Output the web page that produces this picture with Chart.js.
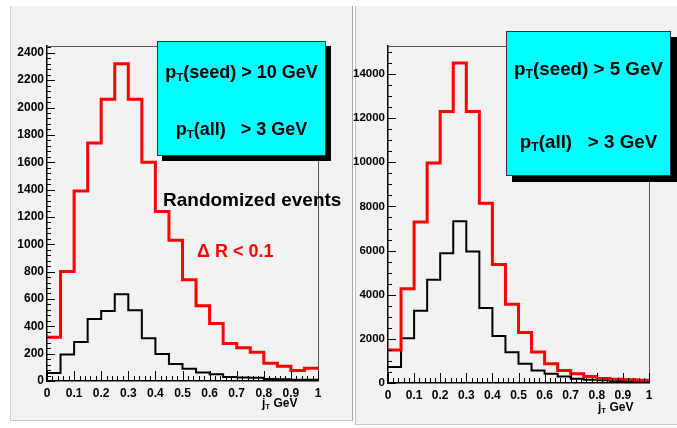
<!doctype html>
<html>
<head>
    <title>jT histograms</title>
    <script src="https://cdn.jsdelivr.net/npm/chart.js@4.4.0/dist/chart.umd.min.js"></script>
    <style>
        html, body {
            margin: 0px;
            width: 677px;
            height: 428px;
            background: #fff;
            overflow: hidden;
            font-family: 'Liberation Sans', Arial, sans-serif;
        }
        .panel {
            position: absolute;
            background: #f2f2f2;
            box-sizing: border-box;
        }
        #panelL { left: 10px; top: 6px; width: 343px; height: 415px;
                  border-left: 1px solid #d0d0d0; border-right: 1px solid #a8a8a8; border-bottom: 1px solid #c8c8c8; }
        #panelR { left: 355px; top: 6px; width: 322px; height: 419px;
                  border-left: 1px solid #c0c0c0; border-bottom: 1px solid #c8c8c8; }
        canvas { position: absolute; }
        #cL { left: 10px; top: 6px; }
        #cR { left: 345px; top: 6px; }
        .box {
            position: absolute;
            background: #00ffff;
            border: 1px solid #333;
            box-shadow: 5px 5px 0 #000;
            box-sizing: border-box;
        }
        .line {
            position: absolute;
            left: 0px;
            width: 100%;
            text-align: center;
            white-space: nowrap;
            line-height: 1;
            font-weight: bold;
            color: #000;
        }
        .note {
            position: absolute;
            white-space: nowrap;
            line-height: 1;
            font-weight: bold;
        }
        sub { font-size: 65%; vertical-align: -0.25em; line-height: 0; }
    </style>
</head>
<body>
    <div class="panel" id="panelL"></div>
    <div class="panel" id="panelR"></div>
    <canvas id="cL" width="342" height="414"></canvas>
    <canvas id="cR" width="332" height="418"></canvas>

    <div class="box" style="left:157px; top:41px; width:169px; height:115px;">
        <div class="line" style="top:21px; font-size:18px;">p<sub>T</sub>(seed) &gt; 10 GeV</div>
        <div class="line" style="top:78px; font-size:18px;">p<sub>T</sub>(all) &nbsp;&nbsp;&gt; 3 GeV</div>
    </div>
    <div class="box" style="left:506px; top:31px; width:165px; height:145px; box-shadow: 6px 6px 0 #000;">
        <div class="line" style="top:28px; font-size:18.8px;">p<sub>T</sub>(seed) &gt; 5 GeV</div>
        <div class="line" style="top:101px; font-size:18.8px;">p<sub>T</sub>(all) &nbsp;&nbsp;&gt; 3 GeV</div>
    </div>

    <div class="note" style="left:163px; top:190px; font-size:19px; color:#000;">Randomized events</div>
    <div class="note" style="left:197px; top:242px; font-size:18px; color:#ff0000;">&Delta; R &lt; 0.1</div>

    <div class="note" style="left:262px; top:397px; font-size:12px;">j<sub>T</sub> GeV</div>
    <div class="note" style="left:598px; top:401px; font-size:12px;">j<sub>T</sub> GeV</div>

    <script>
        // bin lower edges, width 0.05
        var binEdges = [0, 0.05, 0.1, 0.15, 0.2, 0.25, 0.3, 0.35, 0.4, 0.45,
                        0.5, 0.55, 0.6, 0.65, 0.7, 0.75, 0.8, 0.85, 0.9, 0.95];
        var binTop = 1;

        // left: pT(seed) > 10 GeV
        var leftRed   = [320, 800, 1390, 1740, 2060, 2320, 2060, 1600, 1240, 1030,
                         740, 550, 420, 275, 244, 210, 130, 108, 76, 94];
        var leftBlack = [59, 193, 285, 454, 512, 634, 517, 312, 197, 124,
                         89, 62, 49, 30, 25, 24, 15, 12, 10, 10];

        // right: pT(seed) > 5 GeV
        var rightRed   = [1500, 4270, 7300, 9970, 12300, 14500, 12300, 8150, 5370, 3570,
                          2290, 1406, 870, 570, 420, 300, 200, 166, 150, 120];
        var rightBlack = [722, 2030, 3278, 4677, 5880, 7330, 5955, 3400, 2130, 1390,
                          870, 570, 420, 290, 196, 150, 120, 90, 75, 60];

        var xTicks = [0, 0.1, 0.2, 0.3, 0.4, 0.5, 0.6, 0.7, 0.8, 0.9, 1];
        var xTickLabels = ['0', '0.1', '0.2', '0.3', '0.4', '0.5', '0.6', '0.7', '0.8', '0.9', '1'];
        var leftYTicks = [0, 200, 400, 600, 800, 1000, 1200, 1400, 1600, 1800, 2000, 2200, 2400];
        var rightYTicks = [0, 2000, 4000, 6000, 8000, 10000, 12000, 14000];

        function histPoints(vals){
            var pts = [];
            for(var i = 0; i < vals.length; ++i){
                pts.push({x: binEdges[i], y: vals[i]});
            }
            pts.push({x: binTop, y: vals[vals.length - 1]});
            return pts;
        }

        // ROOT-like frame: ticks inside, thin box on top/right
        var rootFrame = {
            id: 'rootFrame',
            afterDatasetsDraw: function(chart, args, o){
                var ctx = chart.ctx, a = chart.chartArea;
                var xs = chart.scales.x, ys = chart.scales.y;
                ctx.save();
                ctx.strokeStyle = '#555';
                ctx.lineWidth = 1;
                ctx.beginPath();
                ctx.moveTo(a.left, a.top + 0.5);
                ctx.lineTo(a.right + 0.5, a.top + 0.5);
                ctx.lineTo(a.right + 0.5, a.bottom);
                ctx.stroke();

                ctx.strokeStyle = '#000';
                ctx.beginPath();
                for(var i = 0; i <= 50; ++i){
                    var px = Math.round(xs.getPixelForValue(i / 50)) + 0.5;
                    var len = (i % 5 == 0) ? 10 : 5;
                    ctx.moveTo(px, a.bottom);
                    ctx.lineTo(px, a.bottom - len);
                }
                for(var v = 0; v <= ys.max; v += o.minor){
                    var py = Math.round(ys.getPixelForValue(v)) + 0.5;
                    var l2 = (v % o.major == 0) ? 8 : 4;
                    ctx.moveTo(a.left, py);
                    ctx.lineTo(a.left + l2, py);
                }
                ctx.stroke();
                ctx.restore();
            }
        };

        function makeChart(id, red, black, yMax, yTicks, yWidth, xHeight, pad, minor, major, yFont){
            var ctx = document.getElementById(id).getContext('2d');
            return new Chart(ctx, {
                type: 'line',
                data: {
                    datasets: [
                        { data: histPoints(red), borderColor: '#ff0000', borderWidth: 3,
                          stepped: 'before', pointRadius: 0, fill: false },
                        { data: histPoints(black), borderColor: '#000000', borderWidth: 2,
                          stepped: 'before', pointRadius: 0, fill: false }
                    ]
                },
                options: {
                    responsive: false,
                    animation: false,
                    devicePixelRatio: 1,
                    layout: { padding: pad },
                    plugins: {
                        legend: { display: false },
                        tooltip: { enabled: false },
                        rootFrame: { minor: minor, major: major }
                    },
                    scales: {
                        x: {
                            type: 'linear', min: 0, max: 1,
                            grid: { display: false, drawTicks: false },
                            border: { display: true, color: '#000', width: 1.5 },
                            afterBuildTicks: function(s){ s.ticks = xTicks.map(function(v){ return {value: v}; }); },
                            afterFit: function(s){ s.height = xHeight; },
                            ticks: {
                                padding: 5, color: '#000', maxRotation: 0, autoSkip: false,
                                font: { family: 'Liberation Sans', size: 12, weight: 'bold' },
                                callback: function(v, i){ return xTickLabels[i]; }
                            }
                        },
                        y: {
                            type: 'linear', min: 0, max: yMax,
                            grid: { display: false, drawTicks: false },
                            border: { display: true, color: '#000', width: 1.5 },
                            afterBuildTicks: function(s){ s.ticks = yTicks.map(function(v){ return {value: v}; }); },
                            afterFit: function(s){ s.width = yWidth; },
                            ticks: {
                                padding: 3, color: '#000', autoSkip: false,
                                font: { family: 'Liberation Sans', size: yFont, weight: 'bold' },
                                callback: function(v){ return String(v); }
                            }
                        }
                    }
                },
                plugins: [rootFrame]
            });
        }

        window.onload = function(){
            makeChart('cL', leftRed, leftBlack, 2450, leftYTicks, 37, 39,
                      { left: 0, top: 40, right: 34, bottom: 0 }, 40, 200, 12);
            makeChart('cR', rightRed, rightBlack, 15270, rightYTicks, 43, 41,
                      { left: 0, top: 40, right: 28, bottom: 0 }, 500, 2000, 11.5);
        };
    </script>
</body>
</html>
